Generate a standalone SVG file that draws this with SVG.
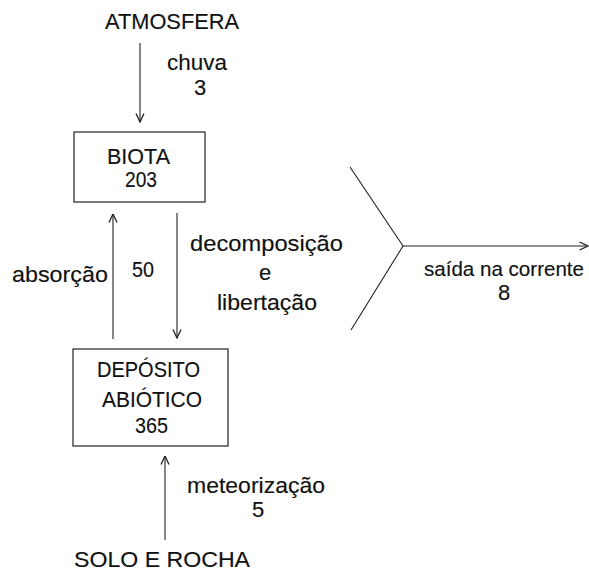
<svg xmlns="http://www.w3.org/2000/svg" width="589" height="572" viewBox="0 0 589 572">
<style>
text{font-family:"Liberation Sans",Arial,sans-serif;font-size:22px;fill:#111;stroke:#111;stroke-width:0.15}
.m{text-anchor:middle}
.box{fill:#fff;stroke:#222;stroke-width:1.2}
.ln{stroke:#222;stroke-width:1.1;fill:none}
.ar{marker-end:url(#ah)}
</style>
<defs>
<marker id="ah" viewBox="0 0 10 10" refX="9.5" refY="5" markerWidth="10" markerHeight="10" markerUnits="userSpaceOnUse" orient="auto">
<path d="M1,1 L9.5,5 L1,9" fill="none" stroke="#222" stroke-width="1.3"/>
</marker>
</defs>
<rect width="589" height="572" fill="#fff"/>
<g id="connectors">
<line class="ln ar" x1="140" y1="43" x2="140" y2="122"/>
<line class="ln ar" x1="113" y1="339" x2="113" y2="214"/>
<line class="ln ar" x1="177" y1="213" x2="177" y2="338"/>
<line class="ln ar" x1="165" y1="540" x2="165" y2="456"/>
<polyline class="ln" points="350,167 403,246 351,330"/>
<line class="ln ar" x1="403" y1="246" x2="588" y2="246"/>
<text x="167" y="70" textLength="60" lengthAdjust="spacingAndGlyphs">chuva</text>
<text class="m" x="200" y="95">3</text>
<text x="12" y="282" textLength="96" lengthAdjust="spacingAndGlyphs">absorção</text>
<text x="132" y="277" textLength="22" lengthAdjust="spacingAndGlyphs">50</text>
<text x="190" y="251" textLength="153" lengthAdjust="spacingAndGlyphs">decomposição</text>
<text class="m" x="265" y="280">e</text>
<text x="217" y="310" textLength="100" lengthAdjust="spacingAndGlyphs">libertação</text>
<text x="187" y="493" textLength="138" lengthAdjust="spacingAndGlyphs">meteorização</text>
<text class="m" x="258" y="517">5</text>
<text x="424" y="276" style="font-size:20.5px" textLength="160" lengthAdjust="spacingAndGlyphs">saída na corrente</text>
<text class="m" x="504" y="300">8</text>
</g>
<g id="atmosfera">
<text x="105" y="29" textLength="134" lengthAdjust="spacingAndGlyphs">ATMOSFERA</text>
</g>
<g id="biota">
<rect class="box" x="74" y="132" width="131" height="70"/>
<text x="107" y="164" textLength="63" lengthAdjust="spacingAndGlyphs">BIOTA</text>
<text x="125" y="187" textLength="32" lengthAdjust="spacingAndGlyphs">203</text>
</g>
<g id="deposito">
<rect class="box" x="73" y="349" width="155" height="97"/>
<text x="97" y="377" textLength="103" lengthAdjust="spacingAndGlyphs">DEPÓSITO</text>
<text x="102" y="407" textLength="100" lengthAdjust="spacingAndGlyphs">ABIÓTICO</text>
<text x="135" y="433" textLength="33" lengthAdjust="spacingAndGlyphs">365</text>
</g>
<g id="solo">
<text x="74" y="567" textLength="176" lengthAdjust="spacingAndGlyphs">SOLO E ROCHA</text>
</g>
</svg>
